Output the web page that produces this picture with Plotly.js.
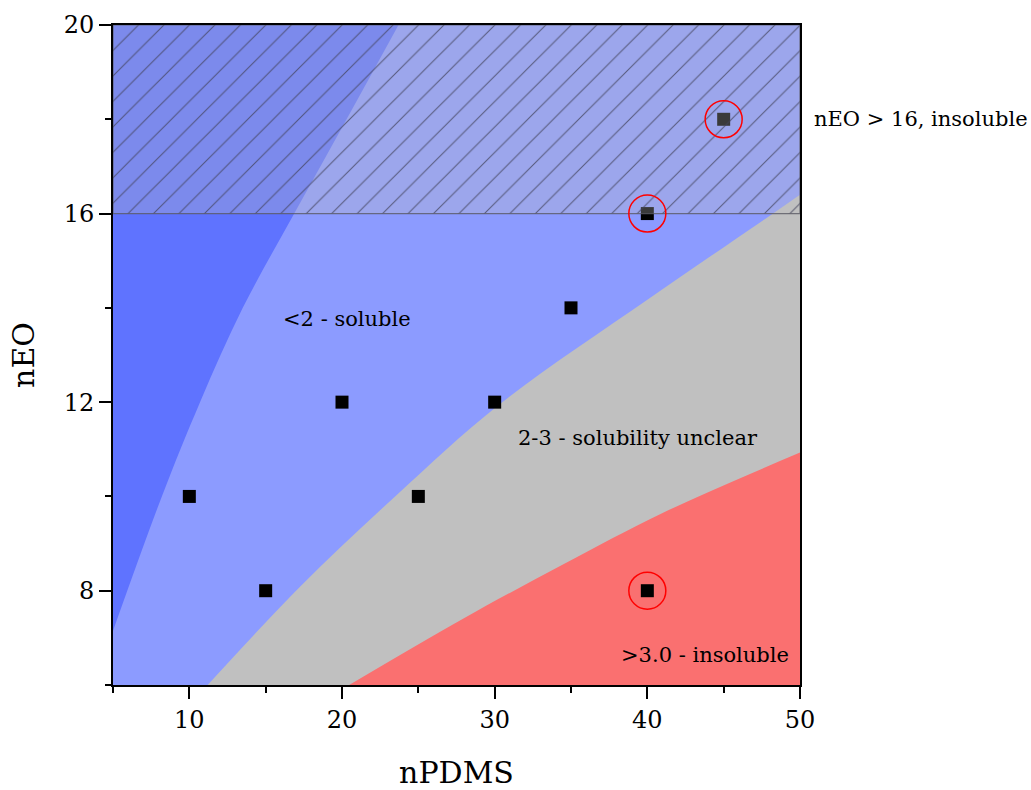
<!DOCTYPE html>
<html>
<head>
<meta charset="utf-8">
<script src="https://cdn.plot.ly/plotly-3.0.1.min.js"></script>
<style>
  html, body { margin: 0; padding: 0; background: #fff; }
  #chart { width: 1031px; height: 790px; }
</style>
</head>
<body>
<div id="chart"></div>
<script>
// Samples: polymer block lengths
const samplePDMS = [10, 15, 20, 25, 30, 35, 40, 45, 40];
const sampleEO   = [10, 8, 12, 10, 12, 14, 16, 18, 8];

// Samples found insoluble
const insolublePDMS = [45, 40, 40];
const insolubleEO   = [18, 16, 8];

// Zone boundaries (nPDMS, nEO)
// edge of the strongly soluble zone (filled towards the left)
const strongEdgeX = [5, 8.2, 10.7, 13.5, 16.87, 20.3, 23.7];
const strongEdgeY = [7.15, 10.0, 12.0, 14.0, 16, 18, 20];
// start of the "2-3" zone (filled downwards)
const unclearEdgeX = [11.2, 17.3, 23.55, 30.3, 40.12, 48.0, 50];
const unclearEdgeY = [6, 8.1, 10.02, 11.95, 14.2, 15.95, 16.4];
// start of the ">3.0" zone (filled downwards)
const insolEdgeX = [20.47, 27.9, 34.44, 41.0, 50];
const insolEdgeY = [6, 7.4, 8.55, 9.65, 10.93];
// nEO > 16 band
const bandX = [5, 50, 50, 5, 5];
const bandY = [16, 16, 20, 20, 16];

// Zone labels
const labelText = ['<2 - soluble', '2-3 - solubility unclear', '>3.0 - insoluble'];
const labelX = [20.3, 39.4, 43.8];
const labelY = [13.77, 11.24, 6.64];
const bandLabel = 'nEO > 16, insoluble';
const bandLabelY = 18;

const serif = 'DejaVu Serif, Liberation Serif, serif';

function zone(x, y, fill, color) {
  return { x: x, y: y, mode: 'lines', fill: fill, fillcolor: color,
           line: { shape: 'spline', smoothing: 1, width: 0, color: color },
           hoverinfo: 'skip', showlegend: false };
}

const traces = [
  zone(strongEdgeX, strongEdgeY, 'tozerox', '#5f73ff'),
  zone(unclearEdgeX, unclearEdgeY, 'tozeroy', '#c0c0c0'),
  zone(insolEdgeX, insolEdgeY, 'tozeroy', '#fa7070'),
  { x: samplePDMS, y: sampleEO, mode: 'markers', type: 'scatter',
    marker: { symbol: 'square', size: 13, color: '#000' }, showlegend: false },
  { x: bandX, y: bandY, mode: 'lines', fill: 'toself',
    fillcolor: 'rgba(192,192,192,0.3)',
    fillpattern: { shape: '/', bgcolor: 'rgba(192,192,192,0.3)', fgcolor: '#404058',
                   fgopacity: 0.75, size: 18, solidity: 0.06 },
    line: { color: 'rgba(90,90,100,0.8)', width: 1.2 },
    hoverinfo: 'skip', showlegend: false },
  { x: insolublePDMS, y: insolubleEO, mode: 'markers',
    marker: { symbol: 'circle-open', size: 37, color: '#ff0000', line: { width: 1.5, color: '#ff0000' } },
    showlegend: false }
];

const annotations = labelText.map((t, i) => ({
  x: labelX[i], y: labelY[i], xref: 'x', yref: 'y', text: t, showarrow: false,
  font: { family: serif, size: 21, color: '#000' }
}));
annotations.push({
  x: 1.018, y: bandLabelY, xref: 'paper', yref: 'y', xanchor: 'left', text: bandLabel,
  showarrow: false, font: { family: serif, size: 21, color: '#000' }
});

const axisCommon = {
  showgrid: false, zeroline: false, showline: true, linecolor: '#000', linewidth: 2,
  mirror: true, ticks: 'outside', ticklen: 12, tickwidth: 2, tickcolor: '#000',
  tickfont: { family: serif, size: 24, color: '#000' }
};

const layout = {
  width: 1031, height: 790,
  margin: { l: 113, r: 231, t: 25, b: 105 },
  paper_bgcolor: '#fff', plot_bgcolor: '#8c9bff',
  xaxis: Object.assign({}, axisCommon, {
    range: [5, 50], tick0: 0, dtick: 10,
    minor: { dtick: 5, tick0: 0, ticks: 'outside', ticklen: 6, tickwidth: 2, tickcolor: '#000' },
    title: { text: 'nPDMS', font: { family: serif, size: 30, color: '#000' }, standoff: 34 }
  }),
  yaxis: Object.assign({}, axisCommon, {
    range: [6, 20], tick0: 0, dtick: 4,
    minor: { dtick: 2, tick0: 0, ticks: 'outside', ticklen: 6, tickwidth: 2, tickcolor: '#000' },
    title: { text: 'nEO', font: { family: serif, size: 30, color: '#000' }, standoff: 20 }
  }),
  annotations: annotations
};

Plotly.newPlot('chart', traces, layout, { displayModeBar: false, staticPlot: true });
</script>
</body>
</html>
